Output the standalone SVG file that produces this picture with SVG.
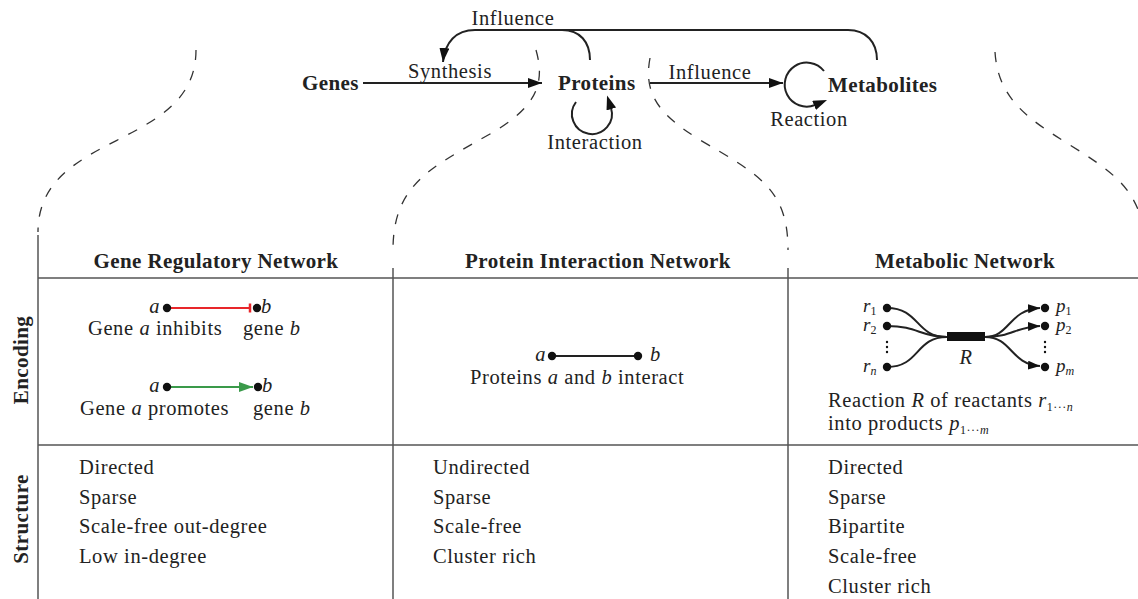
<svg xmlns="http://www.w3.org/2000/svg" width="1138" height="599" viewBox="0 0 1138 599">
  <style>
    text { font-family: "Liberation Serif", "Times New Roman", serif; fill: #222; }
    .t { font-size: 20.5px; letter-spacing: 0.6px; }
    .b { font-size: 21px; font-weight: bold; letter-spacing: 0.4px; }
    .i { font-style: italic; }
    .lab { font-size: 19px; font-style: italic; }
    .sub { font-size: 12px; letter-spacing: 0.5px; }
    .wire { fill: none; stroke: #222; stroke-width: 2; }
    .dash { fill: none; stroke: #333; stroke-width: 1.3; stroke-dasharray: 10 11; }
    .grid { stroke: #555; stroke-width: 1.5; }
    .dot { fill: #111; }
  </style>
  <defs>
    <marker id="tip" markerUnits="userSpaceOnUse" markerWidth="16" markerHeight="12" refX="14" refY="5" orient="auto">
      <path d="M0,0 L14,5 L0,10 z" fill="#111"/>
    </marker>
    <marker id="tail" markerUnits="userSpaceOnUse" markerWidth="16" markerHeight="12" refX="1" refY="5" orient="auto">
      <path d="M0,0 L14,5 L0,10 z" fill="#111"/>
    </marker>
    <marker id="tipSmall" markerUnits="userSpaceOnUse" markerWidth="14" markerHeight="10" refX="12" refY="4.5" orient="auto">
      <path d="M0,0 L12,4.5 L0,9 z" fill="#111"/>
    </marker>
    <marker id="tipGreen" markerUnits="userSpaceOnUse" markerWidth="16" markerHeight="12" refX="14" refY="5" orient="auto">
      <path d="M0,0 L14,5 L0,10 z" fill="#3a9a4a"/>
    </marker>
  </defs>

  <!-- dashed zoom-out outlines linking the top level to the table columns -->
  <g id="outlines">
    <path class="dash" d="M196,50 C196,150 38,130 38,232"/>
    <path class="dash" d="M536,50 C546,85 535,108 490,134 C430,168 393,185 393,250"/>
    <path class="dash" d="M650,58 C643,95 660,115 700,140 C760,175 788,190 788,250"/>
    <path class="dash" d="M995,52 C998,100 1030,120 1070,145 C1110,170 1130,185 1140,215"/>
  </g>

  <!-- top-level nodes -->
  <g id="node-genes"><text class="b" x="302" y="90">Genes</text></g>
  <g id="node-proteins"><text class="b" x="558" y="90">Proteins</text></g>
  <g id="node-metabolites"><text class="b" x="828" y="92">Metabolites</text></g>

  <!-- top-level connectors -->
  <g id="connectors">
    <path class="wire" d="M363,83 L542,83" marker-end="url(#tip)"/>
    <path class="wire" d="M650,83 L783,83" marker-end="url(#tip)"/>
    <path class="wire" d="M877,60 C877,42 866,30 848,30 L475,30 C456,30 445,42 443,62" marker-end="url(#tip)"/>
    <path class="wire" d="M590,60 C590,42 580,30 562,30"/>
    <path class="wire" d="M576,102 A20,20 0 1 0 611,108" marker-end="url(#tail)"/>
    <path class="wire" d="M824,71 A22,22 0 1 0 815,105" marker-end="url(#tail)"/>
    <text class="t" x="513" y="25" text-anchor="middle">Influence</text>
    <text class="t" x="450" y="78" text-anchor="middle">Synthesis</text>
    <text class="t" x="710" y="79" text-anchor="middle">Influence</text>
    <text class="t" x="595" y="149" text-anchor="middle">Interaction</text>
    <text class="t" x="809" y="126" text-anchor="middle">Reaction</text>
  </g>

  <!-- table grid -->
  <g id="table-grid">
    <line class="grid" x1="38" y1="235" x2="38" y2="599"/>
    <line class="grid" x1="393" y1="268" x2="393" y2="599"/>
    <line class="grid" x1="788" y1="268" x2="788" y2="599"/>
    <line class="grid" x1="38" y1="278" x2="1138" y2="278"/>
    <line class="grid" x1="38" y1="445" x2="1138" y2="445"/>
  </g>

  <!-- column and row headers -->
  <g id="headers">
    <text class="b" x="216" y="268" text-anchor="middle">Gene Regulatory Network</text>
    <text class="b" x="598" y="268" text-anchor="middle">Protein Interaction Network</text>
    <text class="b" x="965" y="268" text-anchor="middle">Metabolic Network</text>
    <text class="b" transform="translate(28,360) rotate(-90)" text-anchor="middle">Encoding</text>
    <text class="b" transform="translate(28,519) rotate(-90)" text-anchor="middle">Structure</text>
  </g>

  <!-- gene regulatory encoding -->
  <g id="grn-encoding">
    <text class="t i" x="160" y="313" text-anchor="end">a</text>
    <line x1="167" y1="308" x2="251" y2="308" stroke="#e8262a" stroke-width="2"/>
    <line x1="250" y1="303.5" x2="250" y2="312.5" stroke="#e8262a" stroke-width="2.5"/>
    <circle class="dot" cx="167" cy="308" r="4.2"/>
    <circle class="dot" cx="257" cy="308" r="4.2"/>
    <text class="t i" x="261" y="313">b</text>
    <text class="t" x="88" y="335">Gene <tspan class="i">a</tspan> inhibits</text>
    <text class="t" x="243" y="335">gene <tspan class="i">b</tspan></text>

    <text class="t i" x="160" y="392" text-anchor="end">a</text>
    <line x1="167" y1="387" x2="253" y2="387" stroke="#3a9a4a" stroke-width="2" marker-end="url(#tipGreen)"/>
    <circle class="dot" cx="167" cy="387" r="4.2"/>
    <circle class="dot" cx="258" cy="387" r="4.2"/>
    <text class="t i" x="262" y="392">b</text>
    <text class="t" x="80" y="415">Gene <tspan class="i">a</tspan> promotes</text>
    <text class="t" x="253" y="415">gene <tspan class="i">b</tspan></text>
  </g>

  <!-- protein interaction encoding -->
  <g id="pin-encoding">
    <text class="t i" x="546" y="361" text-anchor="end">a</text>
    <line x1="552" y1="356" x2="638" y2="356" stroke="#222" stroke-width="2"/>
    <circle class="dot" cx="552" cy="356" r="4.2"/>
    <circle class="dot" cx="638" cy="356" r="4.2"/>
    <text class="t i" x="650" y="361">b</text>
    <text class="t" x="470" y="384">Proteins <tspan class="i">a</tspan> and <tspan class="i">b</tspan> interact</text>
  </g>

  <!-- metabolic encoding -->
  <g id="mn-encoding">
    <path class="wire" d="M887,308 C920,308 915,337 947,337"/>
    <path class="wire" d="M887,326 C918,326 920,337 947,337"/>
    <path class="wire" d="M887,367 C920,367 915,337 947,337"/>
    <rect x="947" y="332" width="38" height="9" fill="#111"/>
    <path class="wire" d="M985,337 C1010,337 1008,310 1040,308" marker-end="url(#tipSmall)"/>
    <path class="wire" d="M985,337 C1012,337 1015,327 1040,326" marker-end="url(#tipSmall)"/>
    <path class="wire" d="M985,337 C1012,337 1010,364 1040,366" marker-end="url(#tipSmall)"/>
    <circle class="dot" cx="887" cy="308" r="4.2"/>
    <circle class="dot" cx="887" cy="326" r="4.2"/>
    <circle class="dot" cx="887" cy="367" r="4.2"/>
    <circle class="dot" cx="1045" cy="308" r="4.2"/>
    <circle class="dot" cx="1045" cy="326" r="4.2"/>
    <circle class="dot" cx="1045" cy="367" r="4.2"/>
    <g fill="#111">
      <circle cx="887" cy="342" r="1.2"/><circle cx="887" cy="347" r="1.2"/><circle cx="887" cy="352" r="1.2"/>
      <circle cx="1045" cy="342" r="1.2"/><circle cx="1045" cy="347" r="1.2"/><circle cx="1045" cy="352" r="1.2"/>
    </g>
    <text class="lab" x="863" y="312">r<tspan class="sub" font-style="normal" dy="3">1</tspan></text>
    <text class="lab" x="863" y="331">r<tspan class="sub" font-style="normal" dy="3">2</tspan></text>
    <text class="lab" x="863" y="372">r<tspan class="sub" dy="3">n</tspan></text>
    <text class="lab" x="1056" y="312">p<tspan class="sub" font-style="normal" dy="3">1</tspan></text>
    <text class="lab" x="1056" y="331">p<tspan class="sub" font-style="normal" dy="3">2</tspan></text>
    <text class="lab" x="1056" y="372">p<tspan class="sub" dy="3">m</tspan></text>
    <text class="t i" x="966" y="364" text-anchor="middle">R</text>
    <text class="t" x="828" y="407">Reaction <tspan class="i">R</tspan> of reactants <tspan class="i">r</tspan><tspan class="sub" dy="4">1···<tspan class="i">n</tspan></tspan></text>
    <text class="t" x="828" y="430">into products <tspan class="i">p</tspan><tspan class="sub" dy="4">1···<tspan class="i">m</tspan></tspan></text>
  </g>

  <!-- structure properties -->
  <g id="grn-structure">
    <text class="t" x="79" y="474">Directed</text>
    <text class="t" x="79" y="504">Sparse</text>
    <text class="t" x="79" y="533">Scale-free out-degree</text>
    <text class="t" x="79" y="563">Low in-degree</text>
  </g>
  <g id="pin-structure">
    <text class="t" x="433" y="474">Undirected</text>
    <text class="t" x="433" y="504">Sparse</text>
    <text class="t" x="433" y="533">Scale-free</text>
    <text class="t" x="433" y="563">Cluster rich</text>
  </g>
  <g id="mn-structure">
    <text class="t" x="828" y="474">Directed</text>
    <text class="t" x="828" y="504">Sparse</text>
    <text class="t" x="828" y="533">Bipartite</text>
    <text class="t" x="828" y="563">Scale-free</text>
    <text class="t" x="828" y="593">Cluster rich</text>
  </g>
</svg>
